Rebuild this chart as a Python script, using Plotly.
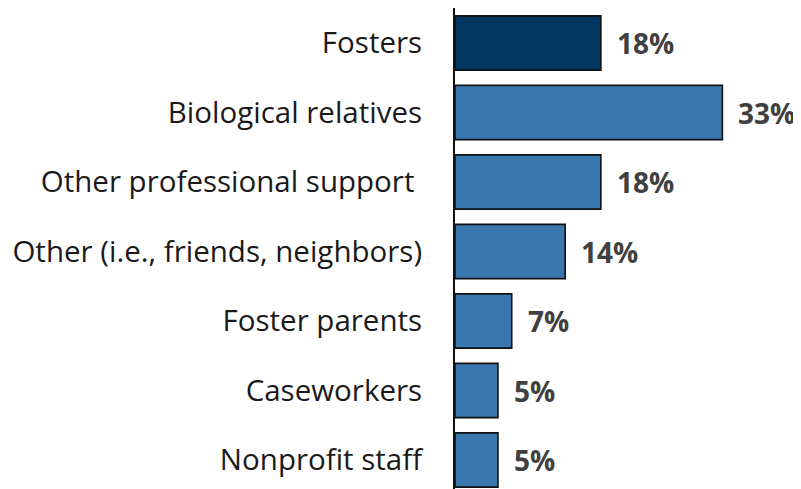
import plotly.graph_objects as go

categories = ["Fosters", "Biological relatives", "Other professional support\u00a0",
              "Other (i.e., friends, neighbors)", "Foster parents", "Caseworkers", "Nonprofit staff"]
values = [18, 33, 18, 13.6, 7, 5.3, 5.3]
value_labels = ["18%", "33%", "18%", "14%", "7%", "5%", "5%"]
bar_colors = ["#02365F", "#3878AF", "#3878AF", "#3878AF", "#3878AF", "#3878AF", "#3878AF"]

fig = go.Figure()
fig.add_trace(go.Bar(
    x=values, y=categories, orientation="h",
    marker=dict(color=bar_colors, line=dict(color="#111111", width=1.6)),
    width=0.78, hoverinfo="skip",
))

for c, v, t in zip(categories, values, value_labels):
    fig.add_annotation(x=v, y=c, text=t, showarrow=False, xanchor="left", yanchor="middle",
                       xshift=14, font=dict(family="Open Sans", size=28, color="#404040", weight="bold"))

fig.update_layout(
    width=793, height=481,
    margin=dict(l=447, r=0, t=0, b=0),
    paper_bgcolor="white", plot_bgcolor="white",
    showlegend=False,
    xaxis=dict(range=[0, 42.7], visible=False, fixedrange=True),
    yaxis=dict(categoryorder="array", categoryarray=categories,
               range=[6.417, -0.504], showline=True, linecolor="#111111", linewidth=2,
               ticks="", showgrid=False, ticklabelstandoff=25,
               tickfont=dict(family="Open Sans", size=29.5, color="#1a1a1a")),
    font=dict(family="Open Sans"),
)

fig.write_html("out.html")
